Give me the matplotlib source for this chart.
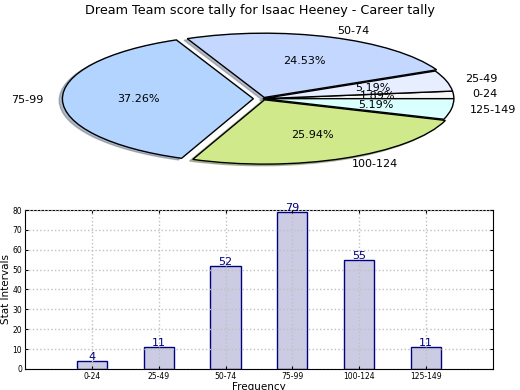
import matplotlib
matplotlib.use("Agg")
import matplotlib.pyplot as plt

categories = ["0-24", "25-49", "50-74", "75-99", "100-124", "125-149"]
counts = [4, 11, 52, 79, 55, 11]
pie_colors = ["#f7f7f7", "#e6eeff", "#c4d8ff", "#b3d4ff", "#d0e98b", "#d9ffff"]
explode = [0, 0, 0.02, 0.05, 0.02, 0]
title = "Dream Team score tally for Isaac Heeney - Career tally"

fig = plt.figure(figsize=(5.2, 3.9), dpi=100)
fig.text(0.5, 0.974, title, ha="center", va="center", fontsize=9.2)

# Pie (squashed ellipse)
axp = fig.add_axes([0.0466, 0.541, 0.918, 0.412])
wedges, texts, autotexts = axp.pie(
    counts, labels=categories, colors=pie_colors, explode=explode,
    autopct="%1.2f%%", shadow={"ox": -0.012, "oy": -0.018, "shade": 0.45},
    startangle=0,
    wedgeprops=dict(edgecolor="black", linewidth=1),
    textprops=dict(fontsize=8))
axp.set_aspect("auto")
axp.set_xlim(-1.25, 1.25)
axp.set_ylim(-1.25, 1.25)
axp.axis("off")

# Bar chart
axb = fig.add_axes([0.048, 0.054, 0.900, 0.4075])
x = list(range(1, len(categories) + 1))
bars = axb.bar(x, counts, width=0.45, color="#cbcce3", edgecolor="#000080",
               linewidth=1, zorder=1)
for xi, v in zip(x, counts):
    axb.text(xi, v - 0.5, str(v), ha="center", va="bottom", color="#000080",
             fontsize=8, zorder=3)
axb.set_xlim(0, 7)
axb.set_ylim(0, 80)
axb.set_xticks(x)
axb.set_xticklabels(categories)
axb.set_yticks(range(0, 81, 10))
axb.tick_params(labelsize=5.5, direction="in", length=2, top=True, right=True,
                pad=2)
axb.grid(True, linestyle=":", color="#c0c0c0", linewidth=1, zorder=2)
axb.set_axisbelow(False)
axb.set_xlabel("Frequency", fontsize=7.5, labelpad=1)
axb.set_ylabel("Stat Intervals", fontsize=7.5, labelpad=1)

fig.savefig("out.png", dpi=100)
